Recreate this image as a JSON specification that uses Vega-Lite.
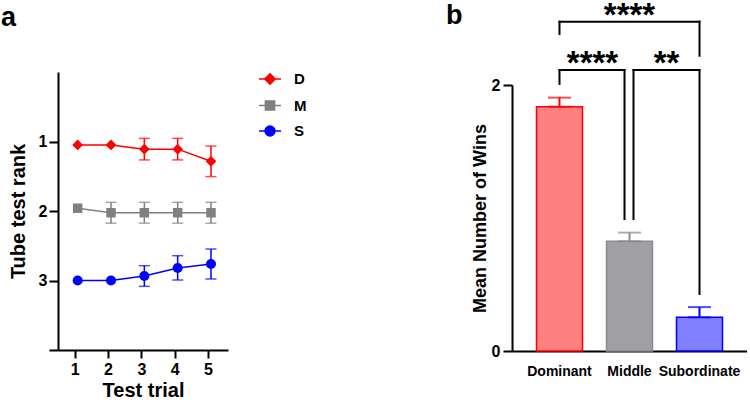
{
  "$schema": "https://vega.github.io/schema/vega-lite/v6.json",
  "padding": {"left": 1, "top": -1, "right": 0, "bottom": 0},
  "bounds": "flush",
  "spacing": 284,
  "resolve": {"scale": {"color": "independent"}, "legend": {"color": "independent"}},
  "config": {
    "view": {"stroke": null},
    "font": "Liberation Sans",
    "axis": {
      "grid": false,
      "labelFont": "Liberation Sans",
      "labelFontWeight": "bold",
      "labelColor": "#000",
      "titleFont": "Liberation Sans",
      "titleFontWeight": "bold",
      "titleColor": "#000",
      "domainColor": "#000",
      "domainWidth": 2,
      "tickColor": "#000",
      "tickWidth": 2
    },
    "title": {
      "font": "Liberation Sans",
      "fontSize": 27,
      "fontWeight": "bold",
      "color": "#000",
      "anchor": "start",
      "frame": "group",
      "baseline": "alphabetic"
    }
  },
  "datasets": {
    "ranks": [
      {"trial": 1, "group": "D", "rank": 1.05},
      {"trial": 2, "group": "D", "rank": 1.05},
      {"trial": 3, "group": "D", "rank": 1.11, "lo": 0.955, "hi": 1.265},
      {"trial": 4, "group": "D", "rank": 1.11, "lo": 0.955, "hi": 1.265},
      {"trial": 5, "group": "D", "rank": 1.285, "lo": 1.065, "hi": 1.505},
      {"trial": 1, "group": "M", "rank": 1.96},
      {"trial": 2, "group": "M", "rank": 2.025, "lo": 1.875, "hi": 2.175},
      {"trial": 3, "group": "M", "rank": 2.025, "lo": 1.875, "hi": 2.175},
      {"trial": 4, "group": "M", "rank": 2.025, "lo": 1.875, "hi": 2.175},
      {"trial": 5, "group": "M", "rank": 2.025, "lo": 1.875, "hi": 2.175},
      {"trial": 1, "group": "S", "rank": 3.0},
      {"trial": 2, "group": "S", "rank": 3.0},
      {"trial": 3, "group": "S", "rank": 2.935, "lo": 2.787, "hi": 3.084},
      {"trial": 4, "group": "S", "rank": 2.82, "lo": 2.643, "hi": 2.993},
      {"trial": 5, "group": "S", "rank": 2.763, "lo": 2.547, "hi": 2.978}
    ],
    "wins": [
      {"role": "Dominant", "mean": 1.837, "upper": 1.905},
      {"role": "Middle", "mean": 0.825, "upper": 0.89},
      {"role": "Subordinate", "mean": 0.253, "upper": 0.33}
    ],
    "comparisons": [
      {"left": "Dominant", "right": "Subordinate", "top": 2.476, "leftTip": 2.383, "rightTip": 2.22, "stars": "****"},
      {"left": "Dominant", "right": "Middle", "top": 2.113, "leftTip": 2.008, "rightTip": 0.992, "stars": "****"},
      {"left": "Middle", "right": "Subordinate", "top": 2.113, "leftTip": 0.992, "rightTip": 0.429, "stars": "**"}
    ]
  },
  "hconcat": [
    {
      "width": 170,
      "height": 278,
      "title": {"text": "a", "dx": -57, "offset": 35},
      "data": {"name": "ranks"},
      "encoding": {
        "x": {
          "field": "trial",
          "type": "quantitative",
          "scale": {"domain": [0.5, 5.6], "nice": false, "zero": false},
          "axis": {
            "title": "Test trial",
            "values": [1, 2, 3, 4, 5],
            "format": "d",
            "tickSize": 8,
            "labelPadding": 3,
            "labelFontSize": 16,
            "titleFontSize": 20,
            "titlePadding": 3
          }
        },
        "color": {
          "field": "group",
          "type": "nominal",
          "scale": {"domain": ["D", "M", "S"], "range": ["#ff0000", "#808080", "#0000ff"]},
          "legend": {
            "orient": "none",
            "legendX": 200,
            "legendY": -5,
            "title": null,
            "padding": 0,
            "labelFont": "Liberation Sans",
            "labelFontSize": 15,
            "labelFontWeight": "bold",
            "labelColor": "#000",
            "labelOffset": 12,
            "rowPadding": 5.5,
            "symbolSize": 484,
            "symbolStrokeWidth": 1.5,
            "encoding": {
              "symbols": {
                "shape": {
                  "condition": [
                    {"test": "datum.value === 'D'", "value": "M-1,0H1M0,-0.48L0.48,0L0,0.48L-0.48,0Z"},
                    {"test": "datum.value === 'M'", "value": "M-1,0H1M-0.42,-0.42H0.42V0.42H-0.42Z"}
                  ],
                  "value": "M-1,0H1M-0.45,0A0.45,0.45,0,1,1,0.45,0A0.45,0.45,0,1,1,-0.45,0Z"
                },
                "fill": {
                  "condition": [
                    {"test": "datum.value === 'D'", "value": "#ff0000"},
                    {"test": "datum.value === 'M'", "value": "#808080"}
                  ],
                  "value": "#0000ff"
                },
                "stroke": {
                  "condition": [
                    {"test": "datum.value === 'D'", "value": "#ff0000"},
                    {"test": "datum.value === 'M'", "value": "#999999"}
                  ],
                  "value": "#0000ff"
                },
                "strokeWidth": {"value": 1.5},
                "opacity": {"value": 1}
              }
            }
          }
        }
      },
      "layer": [
        {
          "mark": {"type": "line", "strokeWidth": 1.5, "xOffset": 3},
          "encoding": {
            "y": {
              "field": "rank",
              "type": "quantitative",
              "title": "Tube test rank",
              "scale": {"domain": [0, 4], "reverse": true, "nice": false, "zero": false},
              "axis": {
                "values": [1, 2, 3, 4],
                "labelExpr": "datum.value === 4 ? '' : datum.label",
                "format": "d",
                "tickSize": 9,
                "labelPadding": 2,
                "labelFontSize": 16,
                "titleFontSize": 20,
                "titlePadding": 10
              }
            }
          }
        },
        {
          "mark": {
            "type": "errorbar",
            "ticks": {"size": 11, "thickness": 1.5, "xOffset": 3},
            "rule": {"strokeWidth": 1.5, "xOffset": 3}
          },
          "encoding": {
            "y": {"field": "lo", "type": "quantitative", "title": "Tube test rank"},
            "y2": {"field": "hi"}
          }
        },
        {
          "transform": [{"filter": "datum.group === 'D'"}],
          "mark": {"type": "point", "filled": true, "opacity": 1, "size": 115, "shape": "diamond", "xOffset": 3},
          "encoding": {
            "y": {"field": "rank", "type": "quantitative", "title": "Tube test rank"}
          }
        },
        {
          "transform": [{"filter": "datum.group === 'M'"}],
          "mark": {"type": "point", "filled": true, "opacity": 1, "size": 90, "shape": "square", "xOffset": 3},
          "encoding": {
            "y": {"field": "rank", "type": "quantitative", "title": "Tube test rank"}
          }
        },
        {
          "transform": [{"filter": "datum.group === 'S'"}],
          "mark": {"type": "point", "filled": true, "opacity": 1, "size": 100, "shape": "circle", "xOffset": 3},
          "encoding": {
            "y": {"field": "rank", "type": "quantitative", "title": "Tube test rank"}
          }
        },
        {
          "data": {"values": [{"label": "N=7"}]},
          "mark": {"type": "text", "fontSize": 22, "fontWeight": "bold", "baseline": "alphabetic", "align": "center"},
          "encoding": {
            "x": {"datum": 2.73},
            "y": {"datum": 0.23},
            "text": {"field": "label"},
            "color": {"value": "#000"}
          }
        }
      ]
    },
    {
      "width": 235,
      "height": 279,
      "title": {"text": "b", "dx": -66, "offset": -30},
      "layer": [
        {
          "data": {"name": "wins"},
          "mark": {"type": "bar", "strokeWidth": 1.5},
          "encoding": {
            "x": {
              "field": "role",
              "type": "nominal",
              "title": null,
              "scale": {"domain": ["Dominant", "Middle", "Subordinate"], "paddingInner": 0.343, "paddingOuter": 0.35},
              "axis": {"ticks": false, "labelAngle": 0, "labelFontSize": 14, "labelPadding": 13}
            },
            "y": {
              "field": "mean",
              "type": "quantitative",
              "title": "Mean Number of Wins",
              "scale": {"domain": [0, 2], "nice": false, "range": [279, 13]},
              "axis": {
                "values": [0, 1, 2],
                "format": "d",
                "tickSize": 9,
                "labelPadding": 3,
                "labelFontSize": 16,
                "titleFontSize": 18,
                "titlePadding": 2
              }
            },
            "fill": {
              "field": "role",
              "type": "nominal",
              "scale": {"domain": ["Dominant", "Middle", "Subordinate"], "range": ["#ff8080", "#a0a0a4", "#8080ff"]},
              "legend": null
            },
            "stroke": {
              "field": "role",
              "type": "nominal",
              "scale": {"domain": ["Dominant", "Middle", "Subordinate"], "range": ["#ff0000", "#8c8c90", "#0000ff"]},
              "legend": null
            }
          }
        },
        {
          "data": {"name": "wins"},
          "mark": {"type": "errorbar", "ticks": {"size": 23, "thickness": 2}, "rule": {"strokeWidth": 2}},
          "encoding": {
            "x": {"field": "role", "type": "nominal", "title": null},
            "y": {"field": "mean", "type": "quantitative", "title": "Mean Number of Wins"},
            "y2": {"field": "upper"},
            "color": {
              "field": "role",
              "type": "nominal",
              "scale": {"domain": ["Dominant", "Middle", "Subordinate"], "range": ["#ff0000", "#8c8c90", "#0000ff"]},
              "legend": null
            }
          }
        },
        {
          "data": {"name": "comparisons"},
          "transform": [{"filter": "datum.left === 'Dominant' && datum.right === 'Subordinate'"}],
          "mark": {"type": "rule", "strokeWidth": 2, "color": "#000", "strokeCap": "square"},
          "encoding": {
            "x": {"field": "left", "type": "nominal", "title": null},
            "x2": {"field": "right"},
            "y": {"field": "top", "type": "quantitative", "title": "Mean Number of Wins"}
          }
        },
        {
          "data": {"name": "comparisons"},
          "transform": [{"filter": "datum.left === 'Dominant' && datum.right === 'Middle'"}],
          "mark": {"type": "rule", "strokeWidth": 2, "color": "#000", "strokeCap": "square", "x2Offset": -5},
          "encoding": {
            "x": {"field": "left", "type": "nominal", "title": null},
            "x2": {"field": "right"},
            "y": {"field": "top", "type": "quantitative", "title": "Mean Number of Wins"}
          }
        },
        {
          "data": {"name": "comparisons"},
          "transform": [{"filter": "datum.left === 'Middle'"}],
          "mark": {"type": "rule", "strokeWidth": 2, "color": "#000", "strokeCap": "square", "xOffset": 4},
          "encoding": {
            "x": {"field": "left", "type": "nominal", "title": null},
            "x2": {"field": "right"},
            "y": {"field": "top", "type": "quantitative", "title": "Mean Number of Wins"}
          }
        },
        {
          "data": {"name": "comparisons"},
          "transform": [{"filter": "datum.left === 'Dominant'"}],
          "mark": {"type": "rule", "strokeWidth": 2, "color": "#000", "strokeCap": "square"},
          "encoding": {
            "x": {"field": "left", "type": "nominal", "title": null},
            "y": {"field": "leftTip", "type": "quantitative", "title": "Mean Number of Wins"},
            "y2": {"field": "top"}
          }
        },
        {
          "data": {"name": "comparisons"},
          "transform": [{"filter": "datum.left === 'Middle'"}],
          "mark": {"type": "rule", "strokeWidth": 2, "color": "#000", "strokeCap": "square", "xOffset": 4},
          "encoding": {
            "x": {"field": "left", "type": "nominal", "title": null},
            "y": {"field": "leftTip", "type": "quantitative", "title": "Mean Number of Wins"},
            "y2": {"field": "top"}
          }
        },
        {
          "data": {"name": "comparisons"},
          "transform": [{"filter": "datum.right === 'Subordinate'"}],
          "mark": {"type": "rule", "strokeWidth": 2, "color": "#000", "strokeCap": "square"},
          "encoding": {
            "x": {"field": "right", "type": "nominal", "title": null},
            "y": {"field": "rightTip", "type": "quantitative", "title": "Mean Number of Wins"},
            "y2": {"field": "top"}
          }
        },
        {
          "data": {"name": "comparisons"},
          "transform": [{"filter": "datum.right === 'Middle'"}],
          "mark": {"type": "rule", "strokeWidth": 2, "color": "#000", "strokeCap": "square", "xOffset": -5},
          "encoding": {
            "x": {"field": "right", "type": "nominal", "title": null},
            "y": {"field": "rightTip", "type": "quantitative", "title": "Mean Number of Wins"},
            "y2": {"field": "top"}
          }
        },
        {
          "data": {"name": "comparisons"},
          "transform": [{"filter": "datum.right === 'Subordinate' && datum.left === 'Dominant'"}],
          "mark": {"type": "text", "fontSize": 33, "fontWeight": "bold", "baseline": "alphabetic", "align": "center", "dx": 70, "dy": 4, "color": "#000"},
          "encoding": {
            "x": {"field": "left", "type": "nominal", "title": null},
            "y": {"field": "top", "type": "quantitative", "title": "Mean Number of Wins"},
            "text": {"field": "stars"}
          }
        },
        {
          "data": {"name": "comparisons"},
          "transform": [{"filter": "datum.right === 'Middle'"}],
          "mark": {"type": "text", "fontSize": 33, "fontWeight": "bold", "baseline": "alphabetic", "align": "center", "dx": 33, "dy": 4, "color": "#000"},
          "encoding": {
            "x": {"field": "left", "type": "nominal", "title": null},
            "y": {"field": "top", "type": "quantitative", "title": "Mean Number of Wins"},
            "text": {"field": "stars"}
          }
        },
        {
          "data": {"name": "comparisons"},
          "transform": [{"filter": "datum.left === 'Middle'"}],
          "mark": {"type": "text", "fontSize": 33, "fontWeight": "bold", "baseline": "alphabetic", "align": "center", "dx": -33, "dy": 4, "color": "#000"},
          "encoding": {
            "x": {"field": "right", "type": "nominal", "title": null},
            "y": {"field": "top", "type": "quantitative", "title": "Mean Number of Wins"},
            "text": {"field": "stars"}
          }
        }
      ]
    }
  ]
}
